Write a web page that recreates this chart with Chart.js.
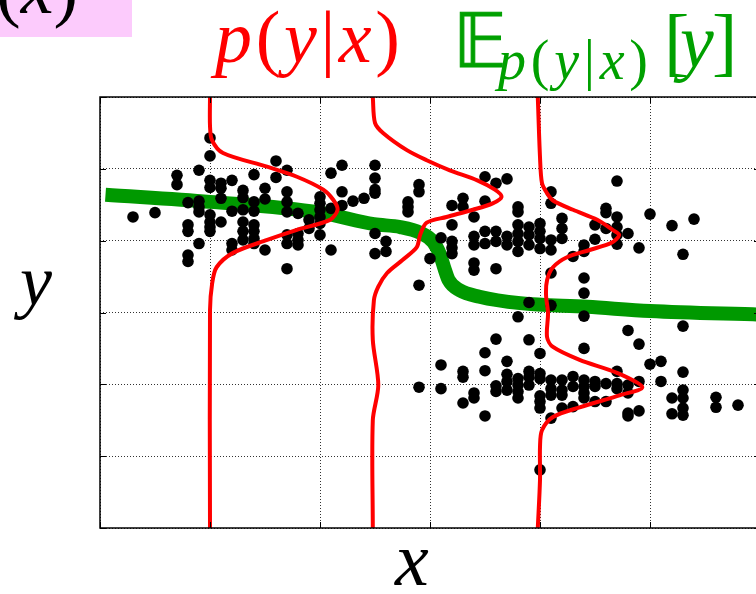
<!DOCTYPE html>
<html>
<head>
<meta charset="utf-8">
<script src="https://cdn.jsdelivr.net/npm/chart.js@4.4.1/dist/chart.umd.min.js"></script>
<style>
  html, body { margin:0; padding:0; background:#fff; overflow:hidden; }
  #wrap { position:relative; width:756px; height:594px; overflow:hidden; }
  #c { position:absolute; left:0; top:0; }
  #ov { position:absolute; left:0; top:0; }
</style>
</head>
<body>
<div id="wrap">
  <canvas id="c" width="770" height="594"></canvas>
  <svg id="ov" width="756" height="594" xmlns="http://www.w3.org/2000/svg">
    <rect x="0" y="0" width="132" height="37" fill="#fccbfc"/>
    <text x="-4" y="13" font-family="Liberation Serif" font-size="74" fill="#000">(<tspan font-style="italic">x</tspan>)</text>
    <text x="215" y="62" font-family="Liberation Serif" font-size="74" fill="#ff0000" textLength="185" lengthAdjust="spacing"><tspan font-style="italic">p</tspan>(<tspan font-style="italic">y</tspan>|<tspan font-style="italic">x</tspan>)</text>
    <text x="453" y="67" font-family="DejaVu Sans, DejaVu Serif" font-size="74" fill="#00a000" stroke="#00a000" stroke-width="1">𝔼</text>
    <text x="498" y="79" font-family="Liberation Serif" font-size="56" fill="#00a000" textLength="150" lengthAdjust="spacing"><tspan font-style="italic">p</tspan>(<tspan font-style="italic">y</tspan>|<tspan font-style="italic">x</tspan>)</text>
    <text x="664" y="67" font-family="Liberation Serif" font-size="76" fill="#00a000">[</text>
    <text x="680" y="67" font-family="Liberation Serif" font-size="76" font-style="italic" fill="#00a000">y</text>
    <text x="712" y="67" font-family="Liberation Serif" font-size="76" fill="#00a000">]</text>
    <text x="20" y="305" font-family="Liberation Serif" font-size="72" font-style="italic" fill="#000">y</text>
    <text x="395" y="585" font-family="Liberation Serif" font-size="76" font-style="italic" fill="#000">x</text>
  </svg>
</div>
<script>
// ---- axis ticks ----
const xTicks = [0, 1, 2, 3, 4, 5, 6];
const yTicks = [0, 1, 2, 3, 4, 5, 6];

// ---- samples: x columns and the y values in each column ----
const dotColX = [0.3,0.5,0.7,0.8,0.9,1.0,1.1,1.2,1.3,1.4,1.5,1.6,1.7,1.8,1.9,2.0,2.1,2.2,2.3,2.4,2.5,2.6,2.8,2.9,3.0,3.1,3.2,3.3,3.4,3.5,3.6,3.7,3.8,3.9,4.0,4.1,4.2,4.3,4.4,4.5,4.6,4.7,4.8,4.9,5.0,5.1,5.2,5.3,5.4,5.6,5.8];
const dotColY = [
  [4.33],
  [4.39],
  [4.91,4.78],
  [4.53,4.22,4.13,3.80,3.71],
  [4.98,4.55,4.47,4.40,3.96],
  [5.43,5.18,4.84,4.74,4.36,4.26,4.19,4.13],
  [4.80,4.73,4.59,4.26],
  [4.84,4.41,3.96,3.87],
  [4.70,4.60,4.43,4.26,4.13,4.01],
  [4.92,4.54,4.41,4.22,4.13,4.03,3.96],
  [4.73,4.58,3.87],
  [5.11,4.88],
  [4.98,4.68,4.54,4.40,4.08,3.96,3.61],
  [4.38,4.10,4.01,3.94],
  [4.29,4.17],
  [4.61,4.52,4.43,4.33,4.24,4.08],
  [4.94,4.45,3.87],
  [5.05,4.68,4.49],
  [4.55],
  [4.59],
  [5.05,4.87,4.71,4.66,4.10,3.82],
  [3.99,3.85],
  [4.54,4.47,4.40],
  [4.78,4.68,3.38,1.96],
  [3.75],
  [4.04,2.27,1.94],
  [4.49,4.22,3.99,3.90,3.82],
  [4.59,4.47,2.18,2.10,1.74],
  [4.33,4.06,3.94,3.69,3.59,1.88,1.81],
  [4.89,4.55,4.13,3.96,2.44,2.19,1.56],
  [4.80,4.13,3.99,3.61,2.63,1.98,1.90],
  [4.86,4.06,3.94,2.32,2.14,2.04,1.92],
  [4.47,4.40,4.22,4.10,3.99,3.85,2.94,2.08,1.99,1.90,1.81],
  [4.19,4.08,3.94,3.14,2.62,2.18,2.10,1.99],
  [4.24,4.13,4.03,3.89,2.43,2.15,2.08,1.84,1.76,1.67,0.81],
  [4.68,4.52,4.01,3.87,3.55,3.10,2.06,1.94,1.85,1.53],
  [4.31,4.17,4.03,2.06,1.92,1.85,1.67],
  [3.78,2.11,1.97,1.69],
  [3.94,3.85,3.48,3.27,2.95,2.50,2.06,1.97,1.88,1.81],
  [4.22,4.02,2.04,1.97,1.76],
  [4.45,4.39,4.17,2.01,1.76],
  [4.83,4.33,4.19,4.08,3.95,2.18,2.01,1.94],
  [4.10,2.75,1.99,1.88,1.60,1.56],
  [3.90,2.56,2.04,1.63],
  [4.37,2.28],
  [2.32,2.04],
  [4.21,1.81,1.59],
  [3.81,2.81,2.17,1.92,1.81,1.67,1.57],
  [4.30],
  [1.82,1.68],
  [1.71]
];

// ---- conditional mean E[y|x] ----
const meanX = [0.05,1.0,2.0,2.49,2.73,2.91,3.03,3.09,3.13,3.17,3.27,3.45,3.82,4.43,5.0,6.0];
const meanY = [4.64,4.54,4.39,4.23,4.19,4.11,3.98,3.81,3.62,3.45,3.31,3.22,3.13,3.08,3.02,2.97];

// ---- conditional densities p(y|x) drawn at three x positions ----
const cond1X = [1.0,1.0,1.018,1.118,1.518,1.79,2.03,2.12,2.16,2.09,1.79,1.52,1.21,1.06,1.02,1.0,1.0];
const cond1Y = [6.0,5.6,5.40,5.22,5.03,4.89,4.71,4.57,4.43,4.29,4.15,4.01,3.83,3.63,3.41,3.03,0.0];
const cond2X = [2.48,2.50,2.573,2.79,2.97,3.18,3.43,3.59,3.65,3.57,3.39,3.15,2.97,2.91,2.88,2.75,2.61,2.53,2.49,2.48,2.53,2.48,2.48];
const cond2Y = [6.0,5.64,5.50,5.26,5.12,4.98,4.84,4.71,4.61,4.52,4.43,4.33,4.25,4.08,3.91,3.73,3.55,3.36,3.17,2.62,1.99,1.50,0.0];
const cond3X = [3.98,4.0,4.018,4.064,4.118,4.30,4.52,4.66,4.72,4.65,4.45,4.245,4.118,4.064,4.055,4.073,4.064,4.118,4.36,4.70,4.93,4.73,4.36,4.118,4.018,4.0,4.0,3.98];
const cond3Y = [6.0,5.165,4.80,4.66,4.56,4.43,4.29,4.15,4.08,3.97,3.87,3.77,3.63,3.45,3.24,2.99,2.66,2.52,2.34,2.16,1.96,1.85,1.68,1.545,1.36,1.13,0.67,0.0];

const toPts = (xs, ys) => xs.map((x, i) => ({ x: x, y: ys[i] }));
const dots = [];
dotColX.forEach((x, i) => dotColY[i].forEach(y => dots.push({ x: x, y: y })));

const framePlugin = {
  id: 'frame',
  afterDatasetsDraw(chart) {
    const { ctx, chartArea: a, scales } = chart;
    ctx.save();
    ctx.strokeStyle = '#000';
    ctx.lineWidth = 1.5;
    ctx.strokeRect(a.left, a.top, a.right - a.left, a.bottom - a.top);
    ctx.lineWidth = 1;
    ctx.beginPath();
    yTicks.forEach(v => {
      const p = Math.round(scales.y.getPixelForValue(v)) + 0.5;
      ctx.moveTo(a.left, p); ctx.lineTo(a.left + 6, p);
      ctx.moveTo(a.right, p); ctx.lineTo(a.right - 6, p);
    });
    xTicks.forEach(v => {
      const p = Math.round(scales.x.getPixelForValue(v)) + 0.5;
      ctx.moveTo(p, a.bottom); ctx.lineTo(p, a.bottom - 6);
      ctx.moveTo(p, a.top); ctx.lineTo(p, a.top + 6);
    });
    ctx.stroke();
    ctx.restore();
  }
};

const redLine = (xs, ys) => ({
  data: toPts(xs, ys), showLine: true, borderColor: '#ff0000', backgroundColor: '#ff0000',
  borderWidth: 4, pointRadius: 0, tension: 0.3, order: 1, fill: false
});

const axisOpts = (ticks) => ({
  type: 'linear', min: 0, max: 6,
  afterBuildTicks: (s) => { s.ticks = ticks.map(v => ({ value: v })); },
  ticks: { display: false },
  grid: { color: '#333', lineWidth: 1, drawTicks: false, borderDash: [1, 2] },
  border: { display: false, dash: [1, 2] }
});

new Chart(document.getElementById('c').getContext('2d'), {
  type: 'scatter',
  data: {
    datasets: [
      { data: toPts(meanX, meanY), showLine: true, borderColor: '#009900', backgroundColor: '#009900',
        borderWidth: 14, pointRadius: 0, cubicInterpolationMode: 'monotone', order: 3, fill: false },
      { data: dots, backgroundColor: '#000', borderColor: '#000', pointRadius: 5.8, borderWidth: 0, order: 2 },
      redLine(cond1X, cond1Y),
      redLine(cond2X, cond2Y),
      redLine(cond3X, cond3Y)
    ]
  },
  options: {
    responsive: false,
    animation: false,
    events: [],
    layout: { padding: { left: 100, top: 97, right: 10, bottom: 66 } },
    plugins: { legend: { display: false }, tooltip: { enabled: false } },
    scales: { x: axisOpts(xTicks), y: axisOpts(yTicks) }
  },
  plugins: [framePlugin]
});
</script>
</body>
</html>
